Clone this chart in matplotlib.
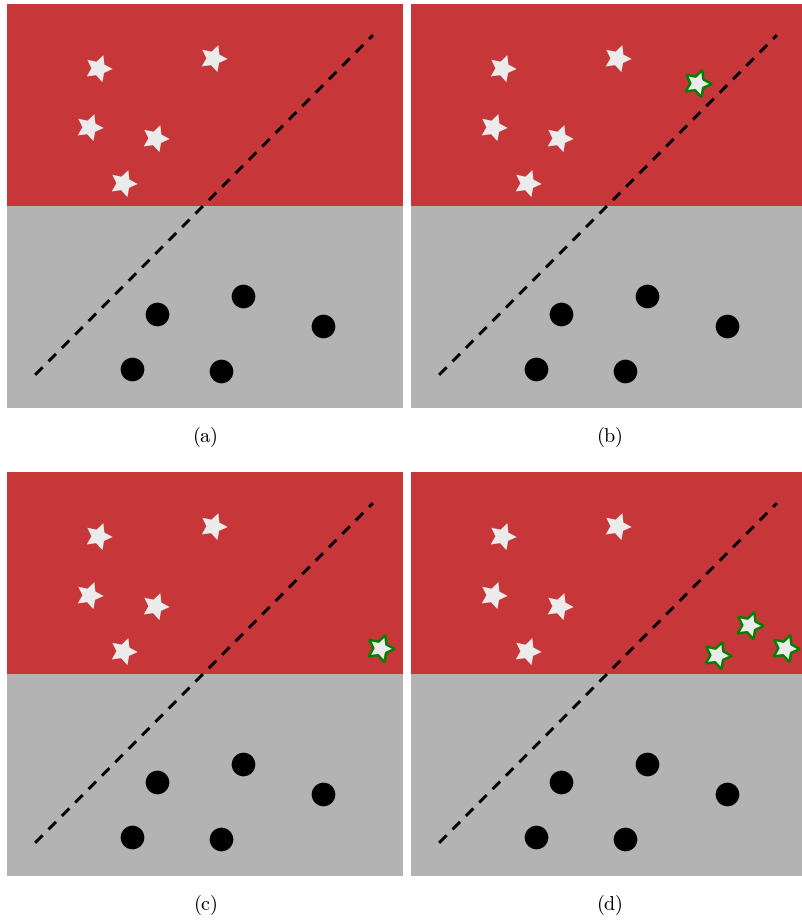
import matplotlib
matplotlib.use("Agg")
import matplotlib.pyplot as plt

plt.rcParams['mathtext.fontset'] = 'cm'

# Data (axes coordinates 0..10)
star_x = [2.30, 5.20, 2.07, 3.74, 2.93]
star_y = [8.42, 8.66, 6.96, 6.68, 5.57]
circ_x = [3.79, 5.96, 7.98, 3.16, 5.40]
circ_y = [2.33, 2.77, 2.03, 0.97, 0.92]
line_x = [0.71, 9.24]
line_y = [0.82, 9.23]
new_x = {'a': [], 'b': [7.22], 'c': [9.42], 'd': [8.54, 7.73, 9.44]}
new_y = {'a': [], 'b': [8.04], 'c': [5.64], 'd': [6.21, 5.47, 5.64]}
labels = ['(a)', '(b)', '(c)', '(d)']

RED = '#c7373a'
GRAY = '#b3b3b3'
STAR = '#ebebeb'

W, H = 802, 922
fig = plt.figure(figsize=(W / 100, H / 100), dpi=100)

star_marker = (5, 1, -20)

lefts = [7, 411, 7, 411]
tops = [4, 4, 472, 472]
pw, ph = 396, 404

for i, lab in enumerate(labels):
    key = 'abcd'[i]
    ax = fig.add_axes([lefts[i] / W, (H - tops[i] - ph) / H, pw / W, ph / H])
    ax.set_xlim(0, 10)
    ax.set_ylim(0, 10)
    ax.axhspan(5, 10, color=RED, lw=0, zorder=0)
    ax.axhspan(0, 5, color=GRAY, lw=0, zorder=0)
    ax.plot(line_x, line_y, color='black', lw=2.2, dashes=(3.5, 2.7), zorder=2)
    ax.plot(star_x, star_y, ls='none', marker=star_marker, markersize=20.5,
            color=STAR, mec=STAR, mew=0, zorder=3)
    ax.plot(circ_x, circ_y, ls='none', marker='o', markersize=16,
            color='black', zorder=3)
    if new_x[key]:
        ax.plot(new_x[key], new_y[key], ls='none', marker=star_marker, markersize=20.5,
                mfc=STAR, mec='#008000', mew=1.8, zorder=4)
    ax.axis('off')
    cx = (lefts[i] + pw / 2) / W
    cy = (H - (tops[i] + ph + 29)) / H
    fig.text(cx, cy, r'$\mathrm{' + lab + '}$', ha='center', va='center', fontsize=14.5)

fig.savefig('out.png', dpi=100)
